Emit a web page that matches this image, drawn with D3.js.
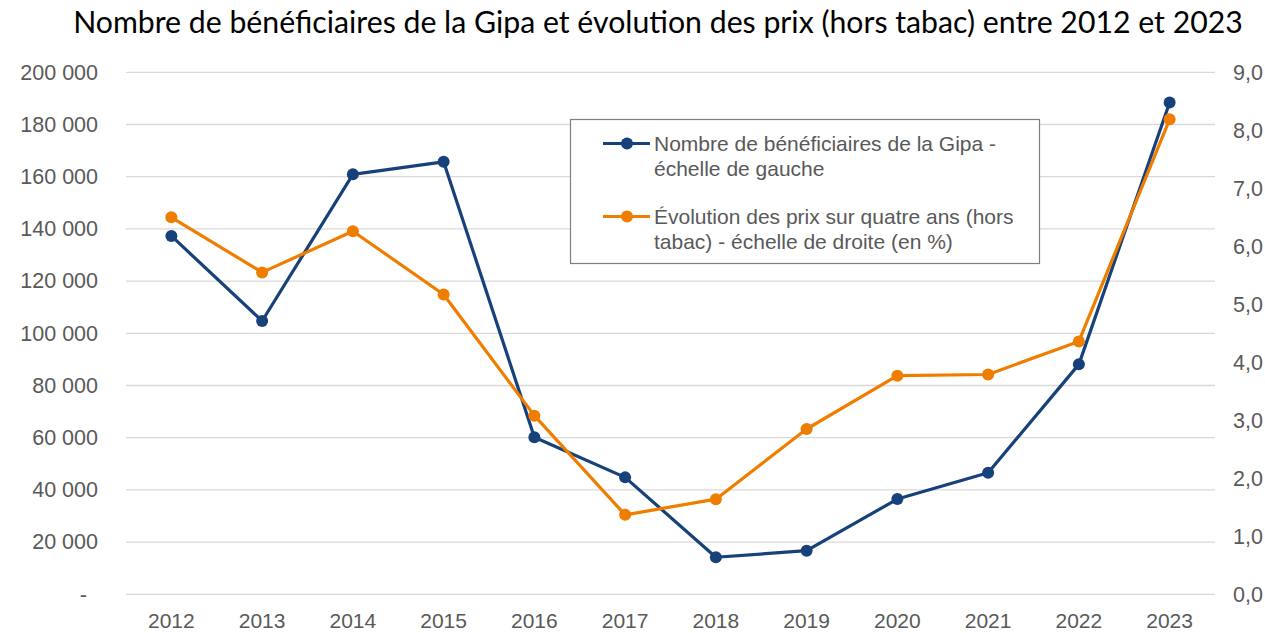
<!DOCTYPE html>
<html lang="fr">
<head>
<meta charset="utf-8">
<script src="https://d3js.org/d3.v7.min.js"></script>
<style>
  body { margin: 0; background: #fff; }
  svg text { font-family: "Liberation Sans", Arial, sans-serif; }
</style>
</head>
<body>
<script>
  // données
  var years = ["2012","2013","2014","2015","2016","2017","2018","2019","2020","2021","2022","2023"];
  var beneficiaires = [137300, 104700, 160900, 165700, 60200, 44800, 14200, 16700, 36500, 46600, 88100, 188400];
  var prix = [6.50, 5.55, 6.26, 5.17, 3.08, 1.37, 1.64, 2.85, 3.77, 3.79, 4.36, 8.19];
  var leftTicks = [0, 20000, 40000, 60000, 80000, 100000, 120000, 140000, 160000, 180000, 200000];
  var rightTicks = [0, 1, 2, 3, 4, 5, 6, 7, 8, 9];
  var titre = "Nombre de bénéficiaires de la Gipa et évolution des prix (hors tabac) entre 2012 et 2023";
  var legendLabels = [
    ["Nombre de bénéficiaires de la Gipa -", "échelle de gauche"],
    ["Évolution des prix sur quatre ans (hors", "tabac) - échelle de droite (en %)"]
  ];

  const W = 1265, H = 633;
  const pLeft = 126, pRight = 1215, pTop = 72.3, pBottom = 594.3;
  const blue = "#17417a", orange = "#ef7d00", grey = "#595959";
  const fs = 21.5;

  const svg = d3.select("body").append("svg")
    .attr("width", W).attr("height", H);

  var x = d3.scaleBand().domain(years).range([pLeft, pRight]);
  var yL = d3.scaleLinear().domain([0, 200000]).range([pBottom, pTop]);
  var yR = d3.scaleLinear().domain([0, 9]).range([pBottom, pTop]);

  // grille
  svg.append("g").selectAll("line")
    .data(leftTicks)
    .enter().append("line")
    .attr("x1", pLeft).attr("x2", pRight)
    .attr("y1", d => yL(d)).attr("y2", d => yL(d))
    .attr("stroke", "#d9d9d9").attr("stroke-width", 1.3);

  // axe gauche
  var fmt = d => d === 0 ? "-" : d3.format(",")(d).replace(/,/g, " ");
  var axL = svg.append("g").attr("transform", "translate(98,0)")
    .call(d3.axisLeft(yL).tickValues(leftTicks).tickFormat(fmt).tickSize(0).tickPadding(0));
  axL.select(".domain").remove();
  axL.selectAll("text").attr("font-size", fs).attr("fill", grey)
    .attr("font-family", "Liberation Sans, Arial, sans-serif");
  axL.selectAll(".tick").filter(d => d === 0).select("text").attr("dx", -11);

  // axe droit
  var axR = svg.append("g").attr("transform", "translate(1233,0)")
    .call(d3.axisRight(yR).tickValues(rightTicks).tickFormat(d => d3.format(".1f")(d).replace(".", ",")).tickSize(0).tickPadding(0));
  axR.select(".domain").remove();
  axR.selectAll("text").attr("font-size", fs).attr("fill", grey)
    .attr("font-family", "Liberation Sans, Arial, sans-serif");

  // axe des abscisses
  var axX = svg.append("g").attr("transform", "translate(0," + pBottom + ")")
    .call(d3.axisBottom(x).tickSize(0));
  axX.select(".domain").remove();
  axX.selectAll("text").attr("font-size", 21).attr("fill", grey)
    .attr("font-family", "Liberation Sans, Arial, sans-serif")
    .attr("y", 33.5).attr("dy", 0);

  var cx = d => x(d) + x.bandwidth() / 2;

  // séries
  var series = [
    { vals: beneficiaires, y: yL, color: blue },
    { vals: prix, y: yR, color: orange }
  ];
  series.forEach(function(s) {
    var line = d3.line().x((d, i) => cx(years[i])).y(d => s.y(d));
    svg.append("path").datum(s.vals)
      .attr("d", line).attr("fill", "none")
      .attr("stroke", s.color).attr("stroke-width", 3.2)
      .attr("stroke-linejoin", "round");
    svg.append("g").selectAll("circle")
      .data(s.vals).enter().append("circle")
      .attr("cx", (d, i) => cx(years[i])).attr("cy", d => s.y(d))
      .attr("r", 6).attr("fill", s.color);
  });

  // légende
  var lg = svg.append("g");
  lg.append("rect").attr("x", 570.5).attr("y", 119.5).attr("width", 469).attr("height", 144)
    .attr("fill", "#fff").attr("stroke", "#7f7f7f").attr("stroke-width", 1.2);
  [[blue, 143.5], [orange, 216.5]].forEach(function(e, i) {
    lg.append("line").attr("x1", 603).attr("x2", 650).attr("y1", e[1]).attr("y2", e[1])
      .attr("stroke", e[0]).attr("stroke-width", 3.2);
    lg.append("circle").attr("cx", 627).attr("cy", e[1]).attr("r", 6).attr("fill", e[0]);
    legendLabels[i].forEach(function(t, j) {
      lg.append("text").attr("x", 654).attr("y", e[1] + 7.5 + j * 24.5)
        .attr("font-size", 21).attr("fill", grey).text(t);
    });
  });

  // titre
  var t = svg.append("text").attr("x", 658).attr("y", 33)
    .attr("text-anchor", "middle").attr("fill", "#000")
    .style("font-family", "Lato, 'Open Sans', sans-serif")
    .attr("font-size", 25).text(titre);
  var tw = t.node().getComputedTextLength();
  t.attr("font-size", 25 * 1170 / tw);
</script>
</body>
</html>
